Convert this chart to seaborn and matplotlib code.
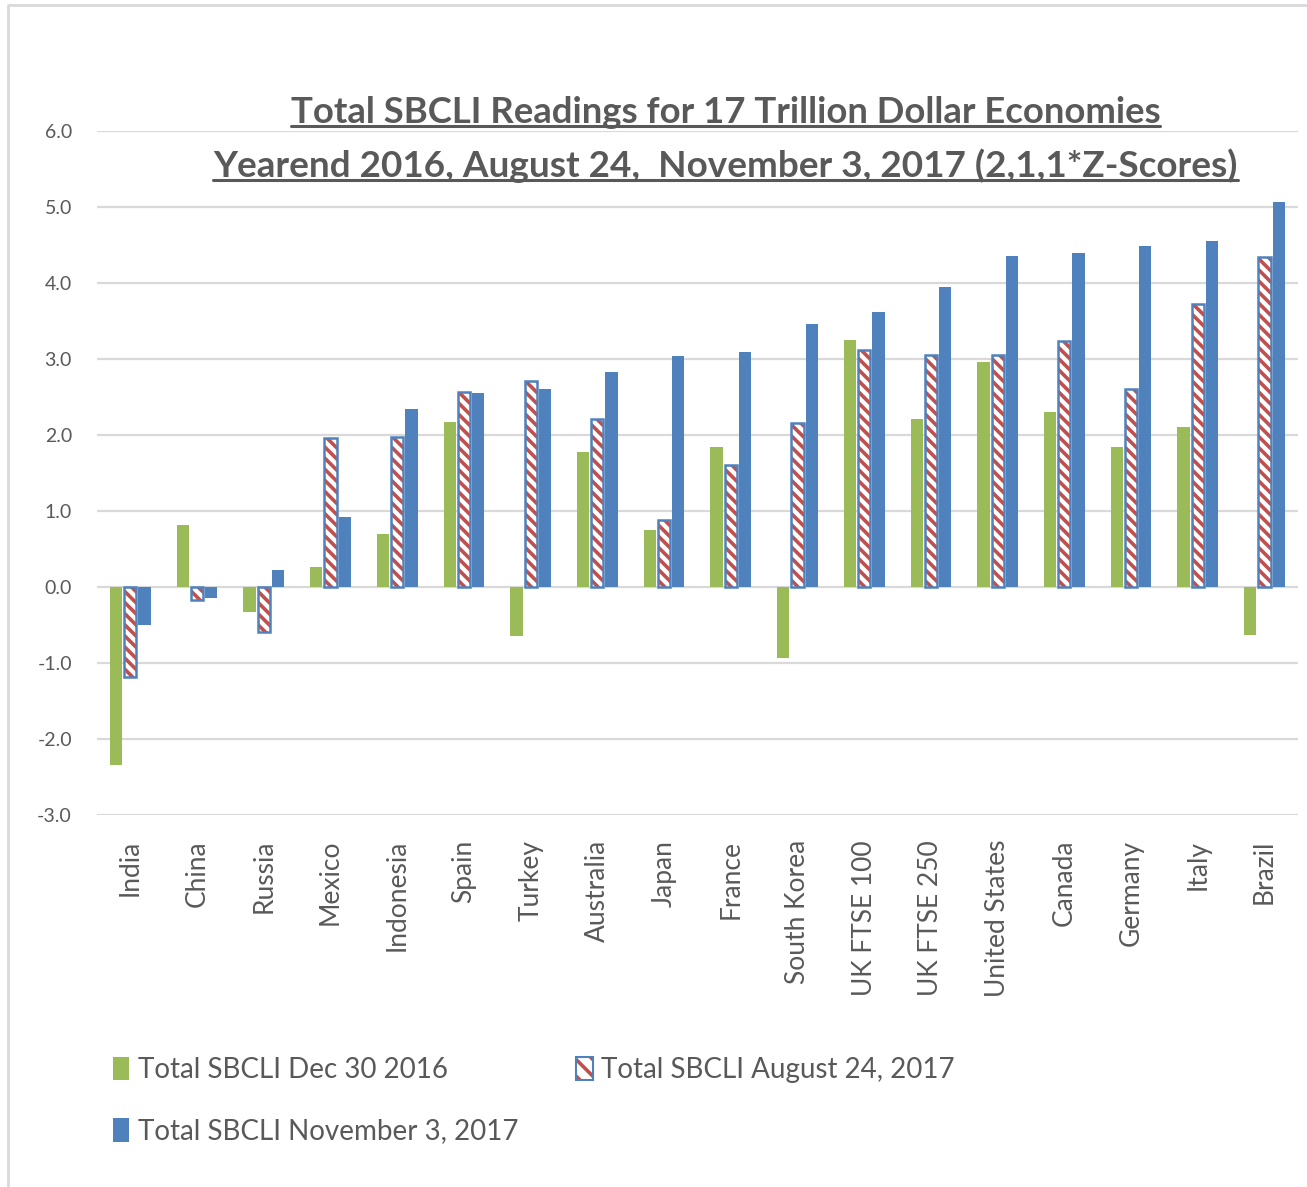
import matplotlib
matplotlib.use("Agg")
import matplotlib.pyplot as plt
import seaborn as sns
import pandas as pd
from matplotlib.patches import Patch, Rectangle
from matplotlib.lines import Line2D
from matplotlib.ticker import FormatStrFormatter

countries = ["India", "China", "Russia", "Mexico", "Indonesia", "Spain", "Turkey",
             "Australia", "Japan", "France", "South Korea", "UK FTSE 100", "UK FTSE 250",
             "United States", "Canada", "Germany", "Italy", "Brazil"]
dec_2016 = [-2.34, 0.82, -0.33, 0.26, 0.70, 2.17, -0.64, 1.78, 0.75, 1.84, -0.93,
            3.25, 2.21, 2.96, 2.30, 1.84, 2.10, -0.63]
aug_2017 = [-1.18, -0.17, -0.59, 1.96, 1.97, 2.57, 2.71, 2.21, 0.88, 1.60, 2.16,
            3.12, 3.05, 3.05, 3.24, 2.60, 3.72, 4.34]
nov_2017 = [-0.50, -0.14, 0.22, 0.92, 2.34, 2.55, 2.60, 2.83, 3.04, 3.09, 3.46,
            3.62, 3.95, 4.36, 4.40, 4.49, 4.55, 5.06]
series_names = ["Total SBCLI Dec 30 2016", "Total SBCLI August 24, 2017",
                "Total SBCLI November 3, 2017"]
y_ticks = [-3.0, -2.0, -1.0, 0.0, 1.0, 2.0, 3.0, 4.0, 5.0, 6.0]
title_lines = ["Total SBCLI Readings for 17 Trillion Dollar Economies",
               "Yearend 2016, August 24,  November 3, 2017 (2,1,1*Z-Scores)"]

GREEN = "#9BBB59"
BLUE = "#4F81BD"
RED = "#C0504D"
GREY = "#595959"

sns.set_style("white")
plt.rcParams["font.family"] = ["Lato", "DejaVu Sans"]
plt.rcParams["hatch.linewidth"] = 2.6

df = pd.DataFrame({
    "country": countries * 3,
    "value": dec_2016 + aug_2017 + nov_2017,
    "series": [series_names[0]] * len(countries) + [series_names[1]] * len(countries)
              + [series_names[2]] * len(countries),
})

W, H = 1307, 1187
fig = plt.figure(figsize=(W / 100, H / 100), dpi=100)
ax = fig.add_axes([0.0742, 0.3134, 0.9188, 0.5762])

sns.barplot(data=df, x="country", y="value", hue="series", order=countries,
            hue_order=series_names, palette=[GREEN, "white", BLUE],
            width=0.64, gap=0.14, saturation=1, legend=False, ax=ax,
            linewidth=0, errorbar=None)

# style the hatched series
for bar in ax.containers[1]:
    bar.set_facecolor("white")
    bar.set_edgecolor(RED)
    bar.set_hatch("\\\\\\")
    bar.set_linewidth(0)
    outline = Rectangle(bar.get_xy(), bar.get_width(), bar.get_height(),
                        fill=False, edgecolor=BLUE, linewidth=1.8,
                        zorder=bar.get_zorder() + 0.1)
    ax.add_patch(outline)

ax.set_ylim(-3, 6)
ax.set_yticks(y_ticks)
ax.yaxis.set_major_formatter(FormatStrFormatter("%.1f"))
ax.grid(axis="y", color="#D9D9D9", linewidth=1.6)
ax.set_axisbelow(True)
for s in ax.spines.values():
    s.set_visible(False)
ax.set_xlabel("")
ax.set_ylabel("")
ax.tick_params(axis="y", labelsize=14, colors=GREY, length=0, pad=18)
ax.tick_params(axis="x", labelsize=19, colors=GREY, length=0, pad=18)
plt.setp(ax.get_xticklabels(), rotation=90, va="top", ha="center")

# title with underline, sized to the reference widths
title_y = [0.905, 0.860]
title_w = [870, 1024]
renderer = fig.canvas.get_renderer()
for line, yy, tw in zip(title_lines, title_y, title_w):
    t = fig.text(0.555, yy, line, ha="center", va="center", fontsize=28,
                 fontweight="bold", color=GREY)
    w = t.get_window_extent(renderer).width
    t.set_fontsize(28 * tw / w)
    bb = t.get_window_extent(renderer).transformed(fig.transFigure.inverted())
    fig.add_artist(Line2D([bb.x0, bb.x1], [bb.y0 + 0.003, bb.y0 + 0.003],
                          transform=fig.transFigure, color=GREY, linewidth=2.2))

# legend (row 1: Dec, Aug; row 2: Nov)
h_green = Patch(facecolor=GREEN, edgecolor="none")
h_hatch = (Patch(facecolor="white", edgecolor=RED, hatch="\\\\", linewidth=0),
           Patch(facecolor="none", edgecolor=BLUE, linewidth=1.5))
h_blue = Patch(facecolor=BLUE, edgecolor="none")
fig.legend([h_green, h_blue, h_hatch], [series_names[0], series_names[2], series_names[1]],
           loc="upper left", bbox_to_anchor=(0.067, 0.131), ncol=2, frameon=False,
           fontsize=20, labelcolor=GREY, handlelength=0.6, handleheight=0.95,
           handletextpad=0.3, columnspacing=2.1, labelspacing=1.25)

# outer chart border
fig.add_artist(Line2D([0.006, 0.006, 1.0], [0.0, 0.996, 0.996], transform=fig.transFigure,
                      color="#D9D9D9", linewidth=2))

fig.savefig("out.png", dpi=100)
